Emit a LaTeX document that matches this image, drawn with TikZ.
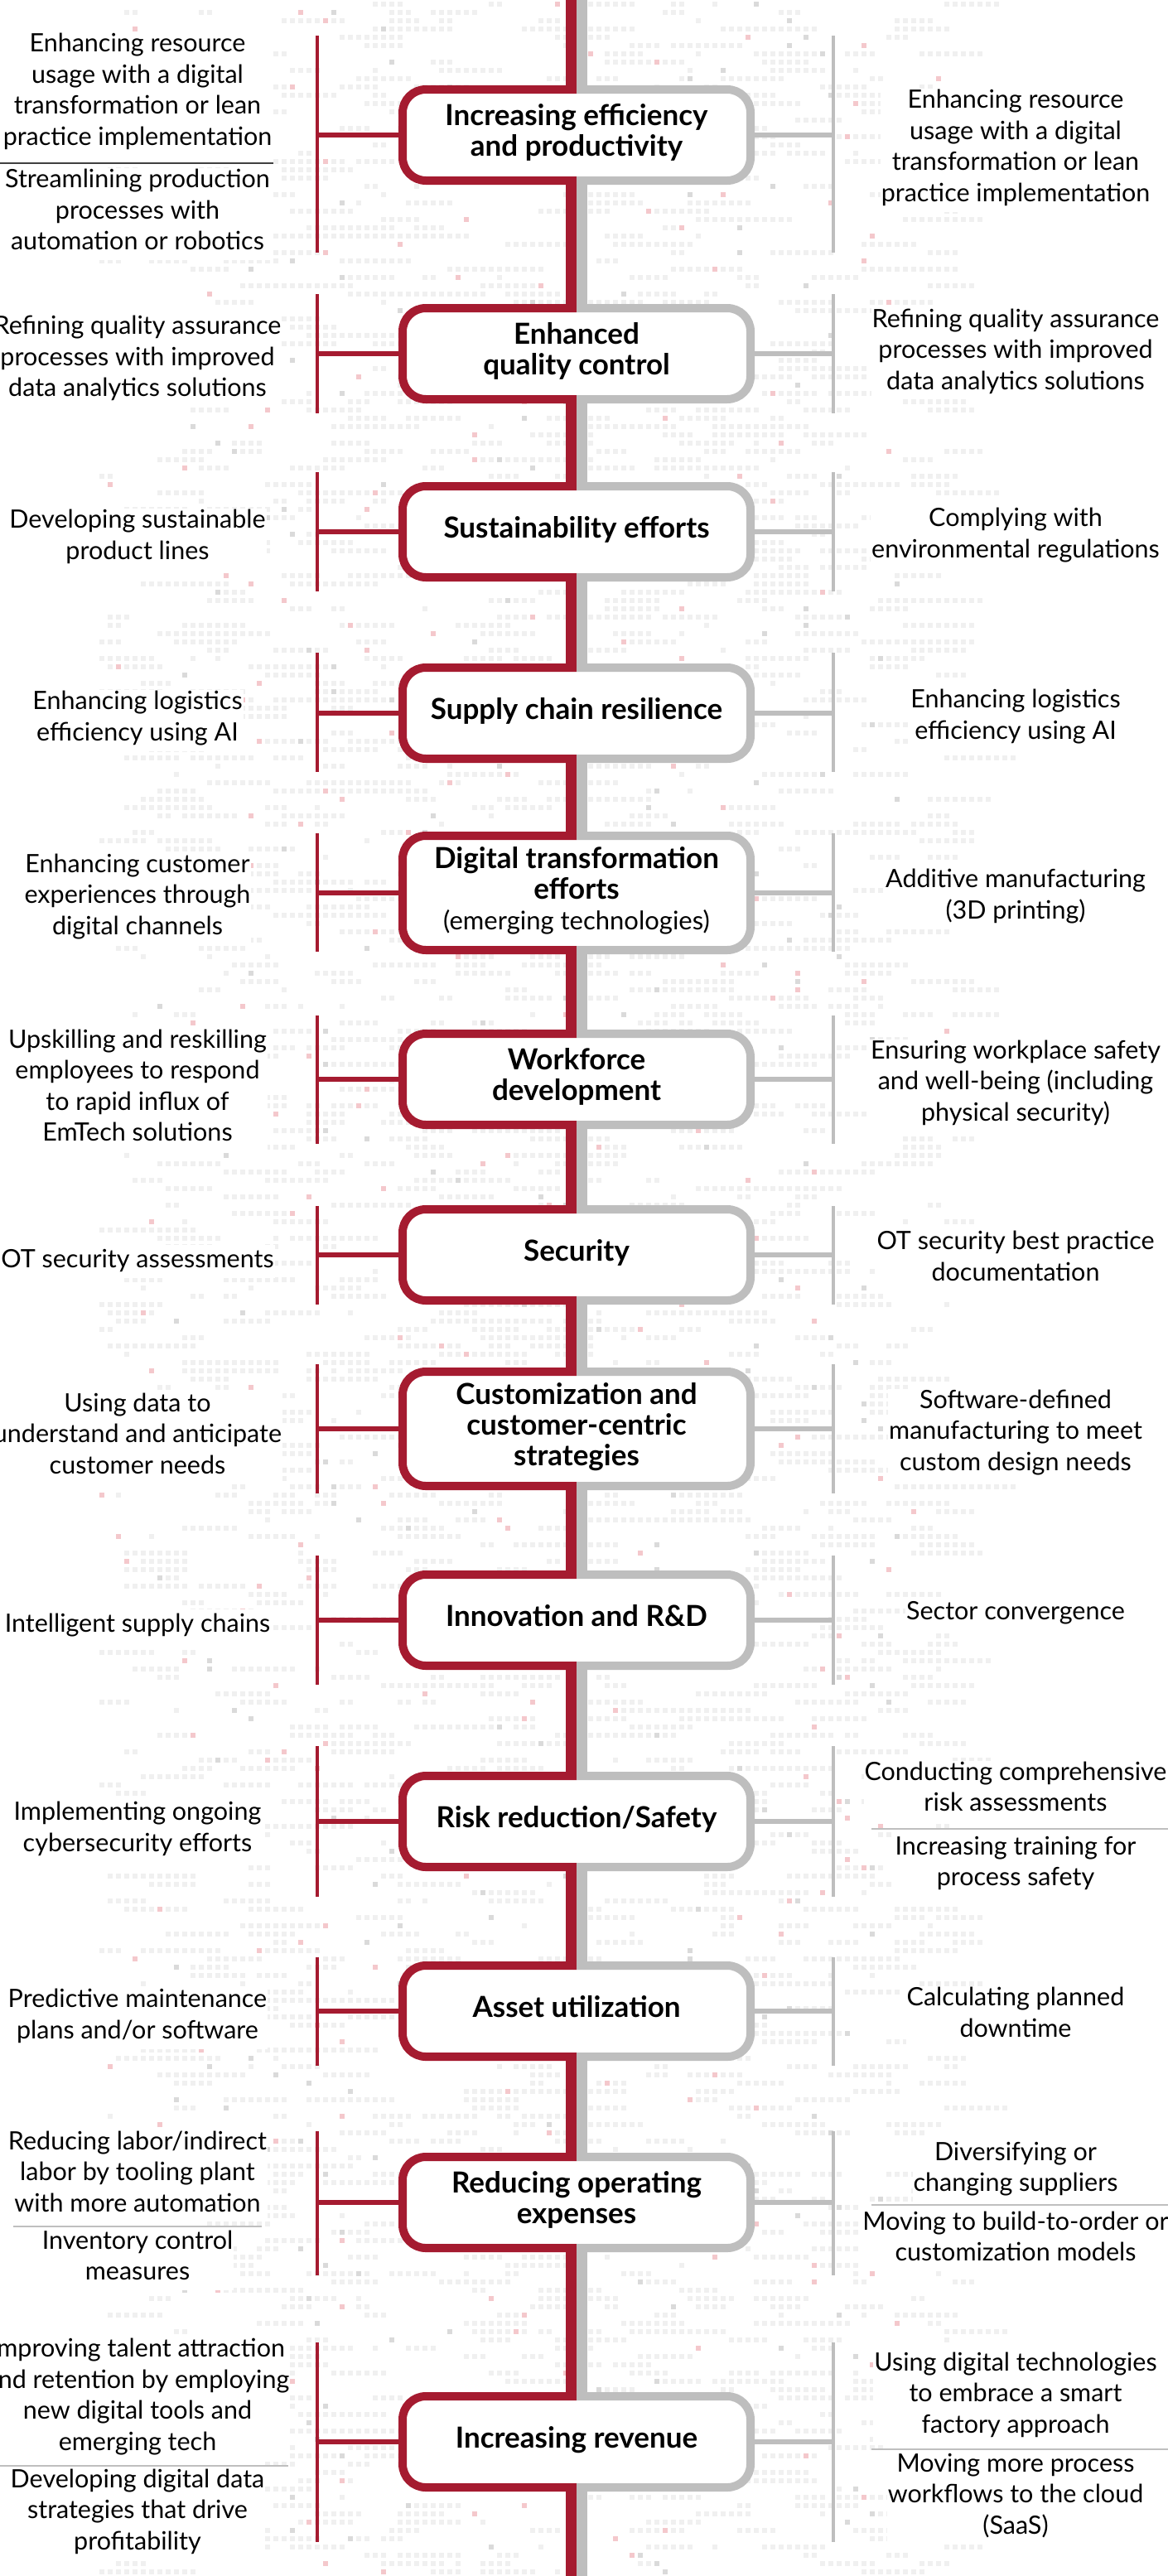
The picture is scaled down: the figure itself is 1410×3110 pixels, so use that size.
\documentclass[tikz,border=0pt]{standalone}
\usepackage{fontspec}
\setmainfont{Lato}
\usepackage{xcolor}
\usepackage{tikz}
\usetikzlibrary{positioning, calc}
\definecolor{crimson}{HTML}{A51B30}
\definecolor{railgray}{HTML}{BEBEBE}
\definecolor{dotgray}{HTML}{F0F0F0}
\definecolor{dotmid}{HTML}{DADADA}
\definecolor{dotpink}{HTML}{F4C8CC}
\tikzstyle{topic} = [rectangle, rounded corners=28pt, minimum width=420pt, minimum height=110pt, outer sep=0pt, fill=white, align=center, text=black, font=\fontsize{35}{37}\selectfont\bfseries, execute at begin node=\strut, execute at end node=\strut]
\tikzstyle{tall} = [minimum height=138pt]
\tikzstyle{note} = [align=center, fill=white, inner sep=1pt, text=black, font=\fontsize{30.5}{37.5}\selectfont, execute at begin node=\strut, execute at end node=\strut]
\tikzstyle{redrail} = [rectangle, fill=crimson, minimum width=4pt, inner sep=0pt, outer sep=0pt]
\tikzstyle{grayrail} = [rectangle, fill=railgray, minimum width=4pt, inner sep=0pt, outer sep=0pt]
\tikzstyle{redlink} = [crimson, line width=6pt]
\tikzstyle{graylink} = [railgray, line width=6pt]
\tikzstyle{redhalf} = [crimson, line width=10pt, rounded corners=28pt]
\tikzstyle{grayhalf} = [railgray, line width=10pt, rounded corners=28pt]
\tikzstyle{sepline} = [black!25, line width=2pt]
\tikzstyle{dotrow} = [dotgray, line width=6pt, dash pattern=on 6pt off 4pt]

\begin{document}
\begin{tikzpicture}[x=1pt, y=-1pt]
\useasboundingbox (0,0) rectangle (1410,3110);

% data texture behind everything
\pgfmathsetseed{2024}
\foreach \r in {0,...,310} {
  \foreach \k in {1,...,8} {
    \pgfmathtruncatemacro\c{64+52*rand}
    \pgfmathtruncatemacro\n{1+8*rnd}
    \draw[dotrow] (\c*10, \r*10+5) -- ++(\n*10-4, 0);
  }
  \pgfmathtruncatemacro\p{64+52*rand}
  \fill[dotpink] (\p*10, \r*10+2) rectangle ++(6,6);
  \pgfmathtruncatemacro\q{64+45*rand}
  \fill[dotmid] (\q*10, \r*10+2) rectangle ++(6,6);
}

% spine
\coordinate (top) at (696,0);
\coordinate (bottom) at (696,3110);
\draw [crimson, line width=13pt] ([xshift=-6.5pt]top) -- ([xshift=-6.5pt]bottom);
\draw [railgray, line width=13pt] ([xshift=6.5pt]top) -- ([xshift=6.5pt]bottom);

% topic boxes
\node (b1) [topic] at (696,163) {Increasing efficiency\\and productivity};
\node (b2) [topic] at (696,427) {Enhanced\\quality control};
\node (b3) [topic] at (696,642) {Sustainability efforts};
\node (b4) [topic] at (696,861) {Supply chain resilience};
\node (b5) [topic, tall] at (696,1078) {Digital transformation\\efforts\\{\mdseries\fontsize{31}{37}\selectfont (emerging technologies)}};
\node (b6) [topic] at (696,1303) {Workforce\\development};
\node (b7) [topic] at (696,1515) {Security};
\node (b8) [topic, tall] at (696,1725) {Customization and\\customer-centric\\strategies};
\node (b9) [topic] at (696,1956) {Innovation and R\&D};
\node (b10) [topic] at (696,2199) {Risk reduction/Safety};
\node (b11) [topic] at (696,2428) {Asset utilization};
\node (b12) [topic] at (696,2659) {Reducing operating\\expenses};
\node (b13) [topic] at (696,2948) {Increasing revenue};

\foreach \i in {1,...,13} {
  \draw [redhalf] (b\i.north) -| (b\i.west) |- (b\i.south);
  \draw [grayhalf] (b\i.north) -| (b\i.east) |- (b\i.south);
}

% side rails
\node (l1) [redrail, minimum height=262pt] at (383,174) {};
\node (r1) [grayrail, minimum height=262pt] at (1006,174) {};
\node (l2) [redrail, minimum height=144pt] at (383,427) {};
\node (r2) [grayrail, minimum height=144pt] at (1006,427) {};
\node (l3) [redrail, minimum height=144pt] at (383,642) {};
\node (r3) [grayrail, minimum height=144pt] at (1006,642) {};
\node (l4) [redrail, minimum height=144pt] at (383,860) {};
\node (r4) [grayrail, minimum height=144pt] at (1006,860) {};
\node (l5) [redrail, minimum height=143pt] at (383,1077.5) {};
\node (r5) [grayrail, minimum height=143pt] at (1006,1077.5) {};
\node (l6) [redrail, minimum height=155pt] at (383,1303.5) {};
\node (r6) [grayrail, minimum height=155pt] at (1006,1303.5) {};
\node (l7) [redrail, minimum height=119pt] at (383,1515.5) {};
\node (r7) [grayrail, minimum height=119pt] at (1006,1515.5) {};
\node (l8) [redrail, minimum height=156pt] at (383,1725) {};
\node (r8) [grayrail, minimum height=156pt] at (1006,1725) {};
\node (l9) [redrail, minimum height=156pt] at (383,1956) {};
\node (r9) [grayrail, minimum height=156pt] at (1006,1956) {};
\node (l10) [redrail, minimum height=182pt] at (383,2199) {};
\node (r10) [grayrail, minimum height=182pt] at (1006,2199) {};
\node (l11) [redrail, minimum height=131pt] at (383,2428.5) {};
\node (r11) [grayrail, minimum height=131pt] at (1006,2428.5) {};
\node (l12) [redrail, minimum height=174pt] at (383,2660) {};
\node (r12) [grayrail, minimum height=174pt] at (1006,2660) {};
\node (l13) [redrail, minimum height=241pt] at (383,2948.5) {};
\node (r13) [grayrail, minimum height=241pt] at (1006,2948.5) {};

\foreach \i in {1,...,13} {
  \draw [redlink] (b\i.west) -- (b\i.west -| l\i.center);
  \draw [graylink] (b\i.east) -- (b\i.east -| r\i.center);
}

% left notes
\node (t1a) [note] at (166,113.5) {Enhancing resource\\usage with a digital\\transformation or lean\\practice implementation};
\node (t1b) [note] at (166,258.5) {Streamlining production\\processes with\\automation or robotics};
\node (t2) [note] at (166,435.5) {Refining quality assurance\\processes with improved\\data analytics solutions};
\node (t3) [note] at (166,651) {Developing sustainable\\product lines};
\node (t4) [note] at (166,870) {Enhancing logistics\\efficiency using AI};
\node (t5) [note] at (166,1085) {Enhancing customer\\experiences through\\digital channels};
\node (t6) [note] at (166,1316) {Upskilling and reskilling\\employees to respond\\to rapid influx of\\EmTech solutions};
\node (t7) [note] at (166,1523) {OT security assessments};
\node (t8) [note] at (166,1736) {Using data to\\understand and anticipate\\customer needs};
\node (t9) [note] at (166,1963) {Intelligent supply chains};
\node (t10) [note] at (166,2211) {Implementing ongoing\\cybersecurity efforts};
\node (t11) [note] at (166,2437) {Predictive maintenance\\plans and/or software};
\node (t12a) [note] at (166,2627) {Reducing labor/indirect\\labor by tooling plant\\with more automation};
\node (t12b) [note] at (166,2728.5) {Inventory control\\measures};
\node (t13a) [note] at (166,2896.5) {Improving talent attraction\\and retention by employing\\new digital tools and\\emerging tech};
\node (t13b) [note] at (166,3035) {Developing digital data\\strategies that drive\\profitability};

% right notes
\node (s1) [note] at (1226,181.5) {Enhancing resource\\usage with a digital\\transformation or lean\\practice implementation};
\node (s2) [note] at (1226,427) {Refining quality assurance\\processes with improved\\data analytics solutions};
\node (s3) [note] at (1226,649) {Complying with\\environmental regulations};
\node (s4) [note] at (1226,868) {Enhancing logistics\\efficiency using AI};
\node (s5) [note] at (1226,1085) {Additive manufacturing\\(3D printing)};
\node (s6) [note] at (1226,1310) {Ensuring workplace safety\\and well-being (including\\physical security)};
\node (s7) [note] at (1226,1522) {OT security best practice\\documentation};
\node (s8) [note] at (1226,1732) {Software-defined\\manufacturing to meet\\custom design needs};
\node (s9) [note] at (1226,1948) {Sector convergence};
\node (s10a) [note] at (1226,2162.5) {Conducting comprehensive\\risk assessments};
\node (s10b) [note] at (1226,2252.5) {Increasing training for\\process safety};
\node (s11) [note] at (1226,2435) {Calculating planned\\downtime};
\node (s12a) [note] at (1226,2621.5) {Diversifying or\\changing suppliers};
\node (s12b) [note] at (1226,2705.5) {Moving to build-to-order or\\customization models};
\node (s13a) [note] at (1226,2894) {Using digital technologies\\to embrace a smart\\factory approach};
\node (s13b) [note] at (1226,3016) {Moving more process\\workflows to the cloud\\(SaaS)};

% separators
\draw [sepline, black!75] (0,197) -- (330,197);
\draw [sepline] (16,2688) -- (316,2688);
\draw [sepline] (0,2977) -- (348,2977);
\draw [sepline] (1052,2208) -- (1410,2208);
\draw [sepline] (1052,2662) -- (1410,2662);
\draw [sepline] (1052,2957) -- (1410,2957);
\end{tikzpicture}
\end{document}
